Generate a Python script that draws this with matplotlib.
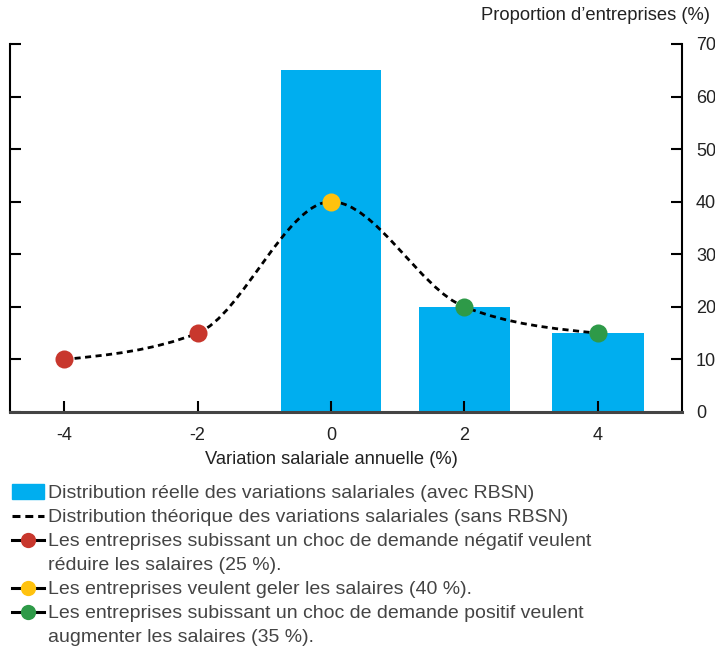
import numpy as np
import matplotlib
matplotlib.use("Agg")
import matplotlib.pyplot as plt
from matplotlib.path import Path
from matplotlib.patches import PathPatch, Rectangle
from matplotlib.lines import Line2D

plt.rcParams['font.family'] = ['Liberation Sans', 'DejaVu Sans']

# ---- data ----
bar_x = [0, 2, 4]
bar_values = [65, 20, 15]
curve_x = [-4, -2, 0, 2, 4]
curve_y = [10, 15, 40, 20, 15]
red_x, red_y = [-4, -2], [10, 15]
yellow_x, yellow_y = [0], [40]
green_x, green_y = [2, 4], [20, 15]
x_ticks = [-4, -2, 0, 2, 4]
y_ticks = [0, 10, 20, 30, 40, 50, 60, 70]
legend_labels = [
    "Distribution réelle des variations salariales (avec RBSN)",
    "Distribution théorique des variations salariales (sans RBSN)",
    "Les entreprises subissant un choc de demande négatif veulent\nréduire les salaires (25 %).",
    "Les entreprises veulent geler les salaires (40 %).",
    "Les entreprises subissant un choc de demande positif veulent\naugmenter les salaires (35 %).",
]

BLUE = "#00AEEF"
RED = "#C8372D"
YELLOW = "#FFC20E"
GREEN = "#2E9A48"
TXT = "#222222"
LTXT = "#444444"

W, H = 715, 647
fig = plt.figure(figsize=(W / 100, H / 100), dpi=100)
ax = fig.add_axes([10 / W, 1 - 412 / H, (682 - 10) / W, (412 - 44) / H])

bar_widths = [1.5, 1.37, 1.37]
ax.bar(bar_x, bar_values, width=bar_widths, color=BLUE, zorder=1)

# smooth monotone cubic (d3 curveMonotoneX style) drawn as Bezier path
xs = np.array(curve_x, float)
ys = np.array(curve_y, float)
n = len(xs)
h = np.diff(xs)
s = np.diff(ys) / h
t = np.zeros(n)
for i in range(1, n - 1):
    s0, s1 = s[i - 1], s[i]
    p = (s0 * h[i] + s1 * h[i - 1]) / (h[i - 1] + h[i])
    t[i] = (np.sign(s0) + np.sign(s1)) * min(abs(s0), abs(s1), 0.5 * abs(p))
t[0] = (3 * s[0] - t[1]) / 2
t[-1] = (3 * s[-1] - t[-2]) / 2
verts = [(xs[0], ys[0])]
codes = [Path.MOVETO]
for i in range(n - 1):
    dx = h[i] / 3
    verts += [(xs[i] + dx, ys[i] + dx * t[i]),
              (xs[i + 1] - dx, ys[i + 1] - dx * t[i + 1]),
              (xs[i + 1], ys[i + 1])]
    codes += [Path.CURVE4] * 3
ax.add_patch(PathPatch(Path(verts, codes), fill=False, edgecolor="black",
                       lw=2, linestyle=(0, (2.2, 1.6)), zorder=2))

ms = 13
ax.plot(red_x, red_y, 'o', color=RED, ms=ms, mec='none', zorder=3)
ax.plot(yellow_x, yellow_y, 'o', color=YELLOW, ms=ms, mec='none', zorder=3)
ax.plot(green_x, green_y, 'o', color=GREEN, ms=ms, mec='none', zorder=3)

ax.set_xlim(-4.81, 5.26)
ax.set_ylim(0, 70)
ax.set_xticks(x_ticks)
ax.set_xticklabels([str(v) for v in x_ticks])
ax.set_yticks(y_ticks)
ax.spines['top'].set_visible(False)
for sp in ('left', 'right'):
    ax.spines[sp].set_linewidth(1.5)
    ax.spines[sp].set_color('black')
ax.spines['bottom'].set_linewidth(2.2)
ax.spines['bottom'].set_color('#444444')
ax.tick_params(axis='y', left=True, right=True, labelleft=False, labelright=True,
               direction='in', length=8, width=1.5, labelsize=13, pad=10, labelcolor=TXT)
ax.tick_params(axis='x', direction='in', length=8, width=1.5, labelsize=13, pad=11,
               labelcolor=TXT)
ax.set_xlabel("Variation salariale annuelle (%)", fontsize=13.2, color=TXT, labelpad=5,
              x=(331 - 10) / 672)

fig.text(710 / W, 1 - 16 / H, "Proportion d\u2019entreprises (%)", ha='right', va='center',
         fontsize=13.2, color=TXT)

# ---- legend (manual) ----
fs = 14
text_x = 48 / W
line_rows = [[491], [516], [540, 563], [588], [612, 635]]
for lab, rows in zip(legend_labels, line_rows):
    for line, yy in zip(lab.split("\n"), rows):
        fig.text(text_x, 1 - yy / H, line, ha='left', va='center_baseline',
                 fontsize=fs, color=LTXT)

# handles
fig.add_artist(Rectangle((12 / W, 1 - 499 / H), 32 / W, 15 / H, color=BLUE,
                         transform=fig.transFigure))
fig.add_artist(Line2D([12 / W, 44 / W], [1 - 516 / H] * 2, color='black', lw=2.2,
                      linestyle=(0, (2.6, 1.6)), transform=fig.transFigure))
for yy, c in [(540, RED), (588, YELLOW), (612, GREEN)]:
    fy = 1 - yy / H
    fig.add_artist(Line2D([12 / W, 44 / W], [fy, fy], color='black', lw=2.2,
                          transform=fig.transFigure))
    fig.add_artist(Line2D([28 / W], [fy], marker='o', ms=11, color=c, mec='none',
                          transform=fig.transFigure))

fig.savefig("out.png", dpi=100)
